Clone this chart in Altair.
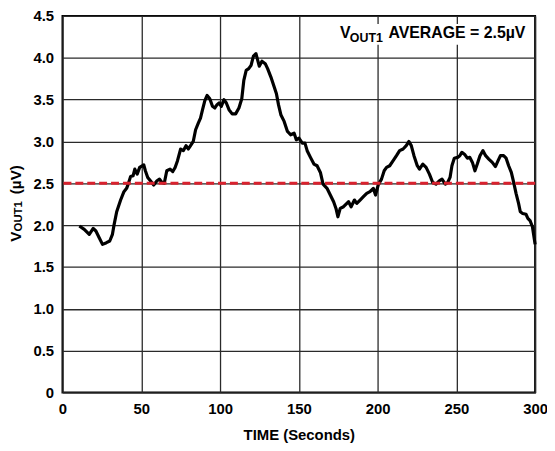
import altair as alt
import pandas as pd

# ---- data ----
time_s = [10.7, 13.8, 17, 19.5, 21.2, 23.3, 25.4, 27.9, 30, 31.7, 32.7, 34.4, 36.9, 39, 40.7,
          41.7, 43.2, 44.8, 45.9, 47.4, 49, 51.6, 52.6, 54.1, 55.8, 57.9, 60, 61.6, 63.1, 64.6,
          66.2, 68.3, 70, 71.5, 73, 75, 76.7, 78.4, 79.9, 81.3, 83, 84.5, 86.2, 87.6, 88.9,
          90.4, 91.8, 93.5, 95.2, 96.7, 98.1, 99.4, 100.8, 102.5, 104, 105.7, 107.7, 109.9,
          112, 113.8, 115.1, 116.6, 118.2, 119.7, 121.2, 122.8, 124.9, 126.6, 128.7, 130.2,
          132.3, 134.4, 135.8, 137.1, 138.6, 140.7, 142.8, 144.8, 147, 148.4, 150.1, 152.2,
          153.9, 155.3, 157.4, 159.6, 161.6, 163.7, 165.4, 167.9, 170, 172.1, 173.6, 174.8,
          176.3, 178.4, 180.5, 181.6, 183.2, 185.3, 186.8, 188.9, 191, 193.1, 195.2, 197.3,
          198.7, 200.4, 202.5, 204.2, 205.7, 207.7, 209.9, 212, 214, 216.2, 218.2, 219.9,
          221.4, 223.1, 225.2, 226.6, 228.7, 230.8, 232.9, 235, 237.1, 239.2, 240.9, 243,
          244.5, 246, 247.2, 248.7, 250.8, 252.2, 253.5, 255.5, 257, 258.5, 260.2, 261.8,
          263.3, 265, 266.9, 268.6, 270.6, 272.8, 274.8, 276.5, 278, 280, 281.6, 283.2, 284.9,
          286.4, 287.9, 289.5, 290.6, 292.1, 294.2, 295.4, 296.9, 298.3, 300]
vout1_uv = [1.99, 1.95, 1.89, 1.96, 1.93, 1.85, 1.77, 1.79, 1.81, 1.89, 2.0, 2.16, 2.30, 2.40, 2.44,
            2.49, 2.58, 2.59, 2.67, 2.61, 2.69, 2.72, 2.65, 2.57, 2.53, 2.48, 2.53, 2.55, 2.51, 2.50,
            2.65, 2.67, 2.64, 2.69, 2.77, 2.91, 2.89, 2.95, 2.91, 2.95, 3.0, 3.14, 3.22, 3.28, 3.38,
            3.49, 3.55, 3.51, 3.42, 3.40, 3.44, 3.46, 3.42, 3.50, 3.46, 3.38, 3.33, 3.33,
            3.40, 3.51, 3.73, 3.85, 3.87, 3.91, 4.02, 4.05, 3.90, 3.96, 3.93, 3.87,
            3.77, 3.65, 3.57, 3.44, 3.32, 3.24, 3.12, 3.08, 3.10, 3.02, 3.04, 2.98,
            2.98, 2.89, 2.81, 2.73, 2.71, 2.63, 2.49, 2.44, 2.36, 2.28, 2.20, 2.10,
            2.20, 2.22, 2.26, 2.28, 2.22, 2.30, 2.26, 2.30, 2.34, 2.38, 2.40, 2.44,
            2.36, 2.48, 2.55, 2.65, 2.69, 2.71, 2.77, 2.83, 2.89, 2.91, 2.95, 3.0,
            2.95, 2.83, 2.71, 2.67, 2.73, 2.69, 2.61, 2.51, 2.49, 2.53, 2.55, 2.49,
            2.51, 2.57, 2.71, 2.80, 2.81, 2.83, 2.87, 2.84, 2.80, 2.81, 2.75, 2.65,
            2.73, 2.83, 2.89, 2.83, 2.79, 2.75, 2.70, 2.77, 2.83, 2.83, 2.80, 2.71, 2.63,
            2.51, 2.38, 2.26, 2.16, 2.14, 2.13, 2.08, 2.05, 1.98, 1.77]
average_uv = [2.5]
x_ticks = [0, 50, 100, 150, 200, 250, 300]
y_ticks = [0, 0.5, 1.0, 1.5, 2.0, 2.5, 3.0, 3.5, 4.0, 4.5]
x_title = "TIME (Seconds)"
note_parts = ["V", "OUT1", "AVERAGE = 2.5µV"]
ytitle_parts = ["V", "OUT1", "(µV)"]

FONT = "Liberation Sans"

df = pd.DataFrame({"t": time_s, "v": vout1_uv})
avg_df = pd.DataFrame({"avg": average_uv})
txt_df = pd.DataFrame({"n0": [note_parts[0]], "n1": [note_parts[1]], "n2": [note_parts[2]],
                       "y0": [ytitle_parts[0]], "y1": [ytitle_parts[1]], "y2": [ytitle_parts[2]]})

xs = alt.Scale(domain=[0, 300], nice=False, zero=False)
ys = alt.Scale(domain=[0, 4.5], nice=False, zero=False)

xaxis = alt.Axis(values=x_ticks, title=x_title, grid=True, labelFlush=False,
                 labelExpr="format(datum.value, 'd')")
yaxis = alt.Axis(values=y_ticks, title=None, grid=True, labelFlush=False,
                 labelExpr="datum.value == 0 ? '0' : format(datum.value, '.1f')")

line = alt.Chart(df).mark_line(color="black", strokeWidth=3.2, strokeJoin="round").encode(
    x=alt.X("t:Q", scale=xs, axis=xaxis),
    y=alt.Y("v:Q", scale=ys, axis=yaxis),
)

avg_rule = alt.Chart(avg_df).mark_rule(color="#d9222e", strokeWidth=3, strokeDash=[8, 4]).encode(
    y=alt.Y("avg:Q", scale=ys)
)

box = alt.Chart(txt_df).mark_rect(color="white").encode(
    x=alt.value(268), x2=alt.value(474), y=alt.value(8), y2=alt.value(29)
)

base_txt = alt.Chart(txt_df)
n0 = base_txt.mark_text(font=FONT, fontWeight="bold", fontSize=16, align="left",
                        baseline="alphabetic", color="black").encode(
    x=alt.value(280), y=alt.value(22), text="n0:N")
n1 = base_txt.mark_text(font=FONT, fontWeight="bold", fontSize=12.5, align="left",
                        baseline="alphabetic", color="black").encode(
    x=alt.value(290), y=alt.value(26), text="n1:N")
n2 = base_txt.mark_text(font=FONT, fontWeight="bold", fontSize=16, align="left",
                        baseline="alphabetic", color="black").encode(
    x=alt.value(329), y=alt.value(22), text="n2:N")

t0 = base_txt.mark_text(font=FONT, fontWeight="bold", fontSize=15.5, align="left",
                        baseline="alphabetic", angle=270, color="black").encode(
    x=alt.value(-42), y=alt.value(228), text="y0:N")
t1 = base_txt.mark_text(font=FONT, fontWeight="bold", fontSize=11.5, align="left",
                        baseline="alphabetic", angle=270, color="black").encode(
    x=alt.value(-41), y=alt.value(217.5), text="y1:N")
t2 = base_txt.mark_text(font=FONT, fontWeight="bold", fontSize=15.5, align="left",
                        baseline="alphabetic", angle=270, color="black").encode(
    x=alt.value(-42), y=alt.value(180), text="y2:N")

chart = alt.layer(line, avg_rule, box, n0, n1, n2, t0, t1, t2).properties(
    width=477, height=380,
    autosize=alt.AutoSizeParams(type="none"),
    padding={"left": 55, "top": 6, "right": 12, "bottom": 54},
).configure_view(
    stroke="black", strokeWidth=2
).configure_axis(
    domain=False, ticks=False, gridColor="#2a2a2a", gridWidth=1.3, gridOpacity=1,
    labelFont=FONT, labelFontWeight="bold", labelFontSize=15, labelColor="black",
    labelPadding=9, titleFont=FONT, titleFontWeight="bold", titleFontSize=15,
    titleColor="black",
).configure_axisX(titlePadding=11)

chart.save("out.html", embed_options={"renderer": "svg", "actions": False})
